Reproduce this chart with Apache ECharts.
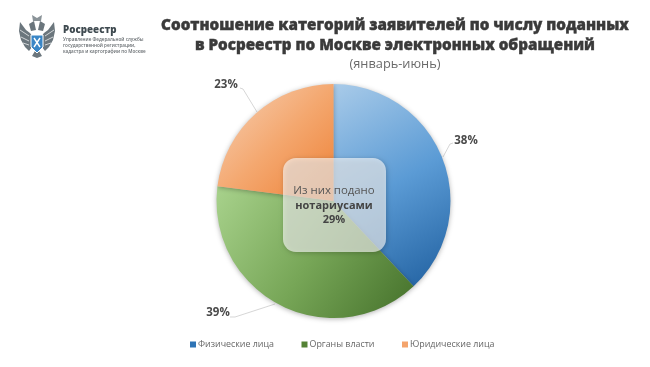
<!DOCTYPE html>
<html><head><meta charset="utf-8">
<style>html,body{margin:0;padding:0;background:#fff}#c{width:650px;height:367px}</style>
<script src="https://cdn.jsdelivr.net/npm/echarts@6/dist/echarts.min.js"></script>
</head><body><div id="c"></div>
<script>
const categories = ['Физические лица', 'Органы власти', 'Юридические лица'];
const shares = [38, 39, 23];
const titleLines = 'Соотношение категорий заявителей по числу поданных\nв Росреестр по Москве электронных обращений';
const periodText = '(январь-июнь)';
const orgName = 'Росреестр';
const orgDesc = ['Управление Федеральной службы', 'государственной регистрации,', 'кадастра и картографии по Москве'];
const noteLines = ['Из них подано', 'нотариусами', '29%'];

const gradients = [
  ['#a9cbe9', '#5b9bd5', '#1f5f9f'],
  ['#a8d28c', '#77a657', '#44702a'],
  ['#f6d2b8', '#f4a870', '#ee8034']
];
const legendColors = ['#2e74b5', '#548235', '#f4a46c'];
const labelSpots = [[466, 141], [218, 313], [226, 85]];
const labelLines = [
  [[443, 157], [450, 144], [453, 143]],
  [[275, 304], [235, 317], [230, 317]],
  [[257, 112], [243, 89], [240, 88]]
];
const FONT = '"Open Sans", sans-serif';

const grad = c => ({type: 'linear', x: 0, y: 0, x2: 1, y2: 1,
  colorStops: [{offset: 0, color: c[0]}, {offset: 0.5, color: c[1]}, {offset: 1, color: c[2]}]});

const chart = echarts.init(document.getElementById('c'), null, {renderer: 'canvas'});

const logoGray = '#6b767d';
const wing = s => ({type: 'polygon', shape: {points: [
  [s*4, -6], [s*7, -10], [s*11, -13], [s*17, -21], [s*18, -12], [s*16, -3], [s*12, 4], [s*8, 8], [s*5, 4]
]}, style: {fill: logoGray}});
const feather = (s, a, b, c, d) => ({type: 'line', shape: {x1: s*a, y1: b, x2: s*c, y2: d}, style: {stroke: '#ffffff', lineWidth: 0.7}});
const logo = {type: 'group', x: 37, y: 43, silent: true, children: [
  wing(-1), wing(1),
  feather(-1, 8, -7, 17, -13), feather(1, 8, -7, 17, -13),
  feather(-1, 8, -2, 16, -6), feather(1, 8, -2, 16, -6),
  feather(-1, 8, 2, 14, 0), feather(1, 8, 2, 14, 0),
  {type: 'polygon', shape: {points: [[-8,-19],[-3,-22],[-1,-13],[-6,-12]]}, style: {fill: logoGray}},
  {type: 'polygon', shape: {points: [[8,-19],[3,-22],[1,-13],[6,-12]]}, style: {fill: logoGray}},
  {type: 'polygon', shape: {points: [[-5,-28],[0,-25],[5,-28],[4,-22],[-4,-22]]}, style: {fill: '#8a9398'}},
  {type: 'polygon', shape: {points: [[-2,8],[2,8],[5,13],[0,15],[-5,13]]}, style: {fill: logoGray}},
  {type: 'polygon', shape: {points: [[-6,-8],[6,-8],[6,4],[0,10],[-6,4]]}, style: {fill: '#3a86c6', stroke: '#ffffff', lineWidth: 1}},
  {type: 'line', shape: {x1: -3, y1: -5, x2: 3, y2: 4}, style: {stroke: '#ffffff', lineWidth: 1.4}},
  {type: 'line', shape: {x1: 3, y1: -5, x2: -3, y2: 4}, style: {stroke: '#ffffff', lineWidth: 1.4}}
]};

const txt = (x, y, text, size, weight, fill, align) => ({type: 'text', x, y, silent: true, z: 20,
  style: {text, font: `${weight} ${size}px ${FONT}`, fill, align: align || 'left', verticalAlign: 'middle'}});

chart.setOption({
  backgroundColor: '#ffffff',
  animation: false,
  title: [
    {text: titleLines, left: 390, top: 11, textAlign: 'center',
     textStyle: {fontFamily: FONT, fontSize: 15.2, fontWeight: 800, color: '#3a3a3a', lineHeight: 20, align: 'center',
       textBorderColor: '#3a3a3a', textBorderWidth: 0.4}},
    {text: periodText, left: 390, top: 53, textAlign: 'center',
     textStyle: {fontFamily: FONT, fontSize: 12.8, fontWeight: 400, color: '#6a6a6a'}}
  ],
  legend: {
    data: categories.map((name, i) => ({name, itemStyle: {color: legendColors[i]}})),
    left: 185, top: 335, icon: 'rect', itemWidth: 6, itemHeight: 6, itemGap: 27.5,
    textStyle: {fontFamily: FONT, fontSize: 8.9, color: '#666666', padding: [0, 0, 0, -3]}
  },
  series: [{
    type: 'pie', center: [333.5, 201], radius: [0, 117], startAngle: 90, clockwise: true,
    itemStyle: {shadowBlur: 5, shadowColor: 'rgba(0,0,0,0.3)', shadowOffsetY: 1},
    emphasis: {disabled: true},
    label: {show: true, position: 'outside', formatter: '{c}%', fontFamily: FONT, fontSize: 11.5, fontWeight: 700, color: '#4a4a4a'},
    labelLine: {show: true, lineStyle: {color: '#c4c4c4', width: 0.7}},
    labelLayout: p => ({
      x: labelSpots[p.dataIndex][0], y: labelSpots[p.dataIndex][1],
      align: 'center', verticalAlign: 'middle',
      labelLinePoints: labelLines[p.dataIndex]
    }),
    data: categories.map((name, i) => ({
      name, value: shares[i],
      itemStyle: {color: grad(gradients[i])}
    }))
  }],
  graphic: [
    logo,
    txt(63, 30, orgName, 9.8, 800, '#3f4a50'),
    txt(63, 40, orgDesc[0], 4.6, 600, '#6a6f73'),
    txt(63, 46, orgDesc[1], 4.6, 600, '#6a6f73'),
    txt(63, 52, orgDesc[2], 4.6, 600, '#6a6f73'),
    {type: 'rect', silent: true, z: 10, shape: {x: 283, y: 158, width: 103, height: 94, r: 13},
     style: {fill: 'rgba(255,255,255,0.62)', shadowBlur: 5, shadowColor: 'rgba(0,0,0,0.35)', shadowOffsetX: 1, shadowOffsetY: 1}},
    txt(334, 191, noteLines[0], 11.4, 400, '#555555', 'center'),
    txt(334, 206, noteLines[1], 11, 700, '#444444', 'center'),
    txt(334, 220, noteLines[2], 11, 700, '#444444', 'center')
  ]
});
</script></body></html>
